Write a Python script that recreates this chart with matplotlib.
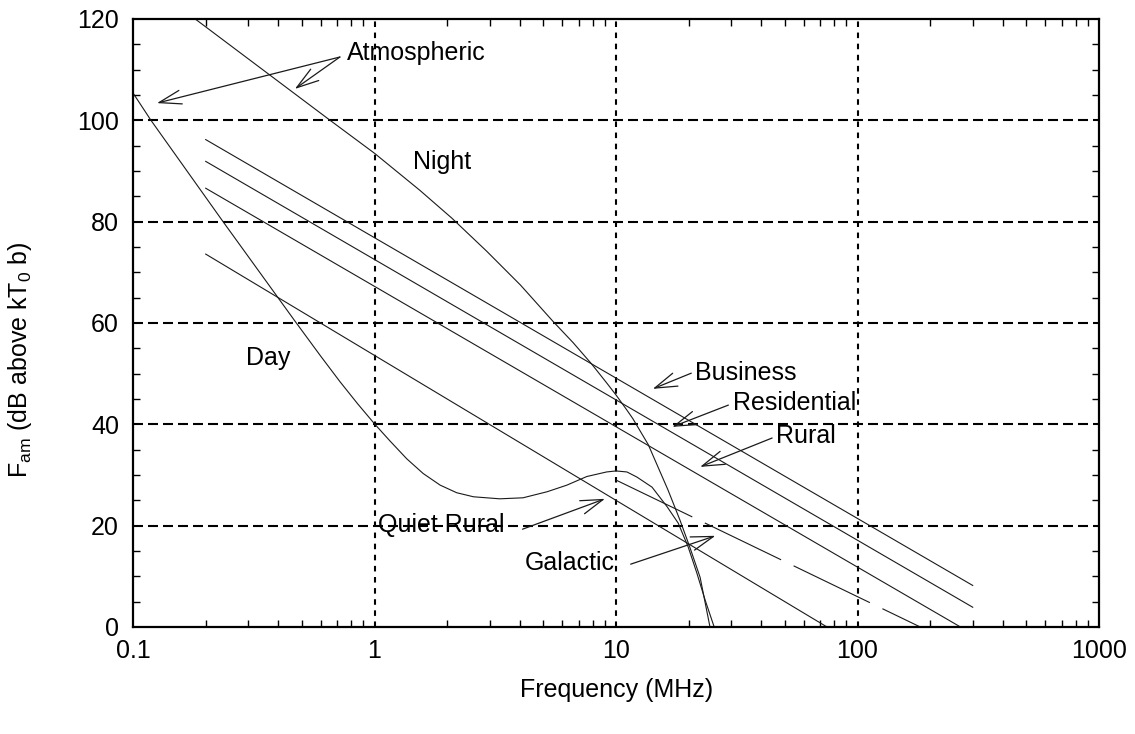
import numpy as np
import matplotlib
matplotlib.use("Agg")
import matplotlib.pyplot as plt
from matplotlib.ticker import FixedLocator, NullFormatter, LogLocator

plt.rcParams['font.family'] = ['Liberation Sans', 'DejaVu Sans']
plt.rcParams['lines.scale_dashes'] = False
plt.rcParams['mathtext.fontset'] = 'custom'
plt.rcParams['mathtext.rm'] = 'Liberation Sans'
plt.rcParams['mathtext.it'] = 'Liberation Sans'

# ---- data -------------------------------------------------------------
# Atmospheric noise, night (MHz, dB above kT0b)
night_f = [0.181, 0.655, 1.0, 1.54, 2.09, 2.91, 4.02, 5.49, 6.65, 7.93,
           9.14, 10.0, 11.1, 11.75, 13.6, 16.4, 18.4, 20.2, 22.3, 24.5]
night_fa = [120.0, 100.0, 93.5, 86.2, 80.7, 74.2, 67.5, 60.3, 56.1, 51.9,
            48.2, 45.8, 42.8, 41.1, 36.0, 27.1, 21.1, 15.8, 9.8, 0.0]

# Atmospheric noise, day
day_f = [0.1, 0.1187, 0.236, 0.468, 0.6, 0.72, 0.85, 1.0, 1.16, 1.36,
         1.59, 1.87, 2.19, 2.57, 3.30, 4.12, 5.19, 6.26, 7.57, 9.14, 10.0,
         11.1, 12.2, 14.1, 16.3, 18.1, 19.9, 21.6, 23.4, 25.5]
day_fa = [105.4, 100.0, 80.0, 60.4, 53.4, 48.4, 44.1, 40.1, 36.7, 33.2,
          30.3, 28.0, 26.5, 25.7, 25.3, 25.5, 26.7, 28.0, 29.7, 30.6, 30.8,
          30.6, 29.6, 27.6, 23.7, 20.5, 15.8, 10.7, 5.3, 0.0]

# Man-made noise lines (end points)
business_f, business_fa = [0.2, 300.0], [96.2, 8.2]
residential_f, residential_fa = [0.2, 300.0], [91.9, 3.9]
rural_f, rural_fa = [0.2, 267.0], [86.6, 0.0]
quiet_f, quiet_fa = [0.2, 74.8], [73.6, 0.0]
galactic_f, galactic_fa = [10.0, 182.0], [29.0, 0.0]

# ---- figure -----------------------------------------------------------
W, H = 1135, 734
fig = plt.figure(figsize=(W / 100, H / 100), dpi=100)
ax = fig.add_axes([133 / W, 107 / H, 966 / W, 608 / H])

ax.set_xscale('log')
ax.set_xlim(0.1, 1000)
ax.set_ylim(0, 120)

lc = '#1a1a1a'
lw = 0.8
ax.plot(night_f, night_fa, color=lc, lw=lw)
ax.plot(day_f, day_fa, color=lc, lw=lw)
for f, v in [(business_f, business_fa), (residential_f, residential_fa),
             (rural_f, rural_fa), (quiet_f, quiet_fa)]:
    ax.plot(f, v, color=lc, lw=lw)
ax.plot(galactic_f, galactic_fa, color=lc, lw=lw,
        linestyle=(0, (61, 10)))

# grid
for y in [20, 40, 60, 80, 100]:
    ax.axhline(y, color='black', lw=1.5, linestyle=(0, (7.2, 3.6)), zorder=0.5)
for x in [1, 10, 100]:
    ax.axvline(x, color='black', lw=1.5, linestyle=(0, (4.0, 4.0)), zorder=0.5)

# ticks
ax.yaxis.set_major_locator(FixedLocator([0, 20, 40, 60, 80, 100, 120]))
ax.yaxis.set_minor_locator(FixedLocator(np.arange(0, 121, 5)))
ax.xaxis.set_major_locator(FixedLocator([0.1, 1, 10, 100, 1000]))
ax.xaxis.set_minor_locator(LogLocator(base=10, subs=np.arange(2, 10)))
ax.xaxis.set_minor_formatter(NullFormatter())
ax.set_xticklabels(['0.1', '1', '10', '100', '1000'])
ax.tick_params(which='both', direction='in', top=True, right=True,
               width=1.0, color='black')
ax.tick_params(which='major', length=0, labelsize=18, pad=10)
ax.tick_params(which='minor', length=5)
ax.tick_params(axis='x', which='major', pad=9)
for s in ax.spines.values():
    s.set_linewidth(1.6)

# labels
fig.text(617 / W, 1 - 690 / H, 'Frequency (MHz)', fontsize=18,
         ha='center', va='center')
fig.text(20 / W, 1 - 360 / H,
         r'F$_{\mathrm{am}}$ (dB above kT$_{\mathrm{0}}$ b)',
         fontsize=18, ha='center', va='center', rotation=90)

txt = dict(fontsize=18, ha='left', va='center', color='black')
ax.text(1.44, 91.8, 'Night', **txt)
ax.text(0.294, 53.1, 'Day', **txt)

arrow = dict(arrowstyle='->,head_length=1.6,head_width=0.5', color=lc,
             lw=0.9, shrinkA=0, shrinkB=0)

ax.annotate('', xy=(0.1257, 103.4), xytext=(0.719, 112.5), arrowprops=arrow)
ax.annotate('', xy=(0.468, 106.2), xytext=(0.719, 112.5), arrowprops=arrow)
ax.text(0.77, 113.2, 'Atmospheric', **txt)

ax.annotate('', xy=(14.2, 47.0), xytext=(20.5, 50.1), arrowprops=arrow)
ax.text(21.2, 50.1, 'Business', **txt)

ax.annotate('', xy=(17.1, 39.5), xytext=(29.2, 43.8), arrowprops=arrow)
ax.text(30.5, 44.3, 'Residential', **txt)

ax.annotate('', xy=(22.3, 31.6), xytext=(44.3, 37.3), arrowprops=arrow)
ax.text(46.0, 37.7, 'Rural', **txt)

ax.annotate('', xy=(9.0, 25.3), xytext=(4.1, 19.3), arrowprops=arrow)
ax.text(3.47, 20.1, 'Quiet Rural', ha='right', va='center', fontsize=18)

ax.annotate('', xy=(25.8, 18.0), xytext=(11.5, 12.4), arrowprops=arrow)
ax.text(9.9, 12.6, 'Galactic', ha='right', va='center', fontsize=18)

fig.savefig('out.png', dpi=100)
